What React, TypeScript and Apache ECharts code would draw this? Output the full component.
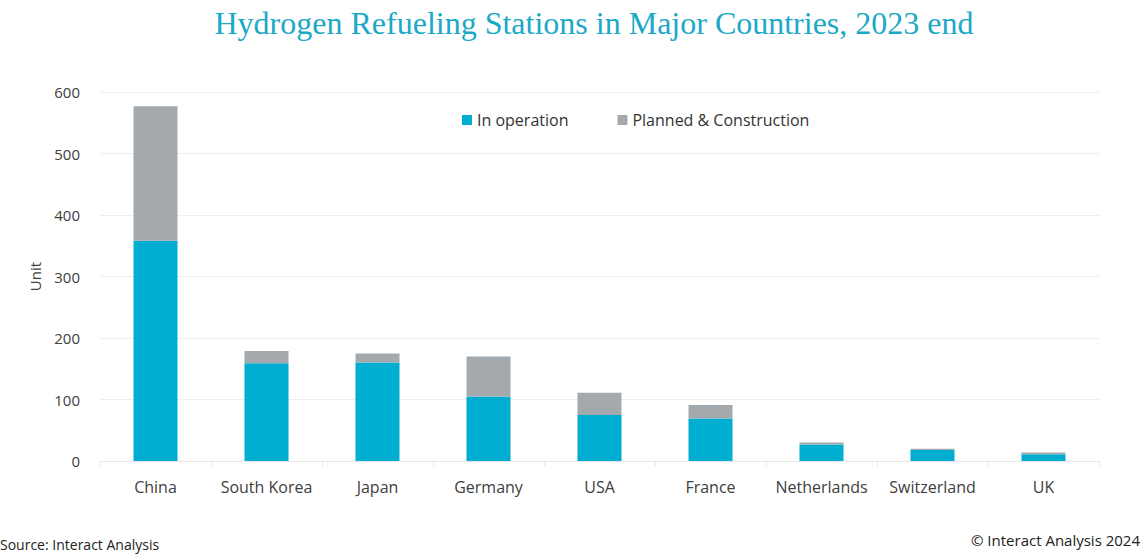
import React, { useEffect, useRef } from "react";
import * as echarts from "echarts";

const categories = ["China", "South Korea", "Japan", "Germany", "USA", "France", "Netherlands", "Switzerland", "UK"];
const inOperation = [358, 159, 160, 105, 75, 69, 27, 18, 11];
const planned = [219, 20, 15, 65, 36, 22, 3, 2, 3];
const yTicks = { min: 0, max: 600, interval: 100 };

const TEAL = "#00aed1";
const GREY = "#a4a9ae";
const SANS = "'Open Sans', 'Noto Sans', sans-serif";

export default function App() {
  const ref = useRef<HTMLDivElement>(null);
  useEffect(() => {
    if (!ref.current) return;
    const chart = echarts.init(ref.current, undefined, { renderer: "svg" });
    chart.setOption({
      animation: false,
      backgroundColor: "#ffffff",
      title: {
        text: "Hydrogen Refueling Stations in Major Countries, 2023 end",
        left: 589,
        textAlign: "center",
        top: 2,
        textStyle: {
          fontFamily: "'Liberation Serif', 'DejaVu Serif', serif",
          fontWeight: "normal",
          fontSize: 32,
          color: "#1aa9c7",
        },
      },
      legend: {
        left: 457,
        top: 107,
        itemWidth: 10,
        itemHeight: 10,
        itemGap: 49,
        icon: "rect",
        textStyle: { fontFamily: SANS, fontSize: 16, color: "#333" },
        data: ["In operation", "Planned & Construction"],
      },
      grid: { left: 100, right: 45, top: 92, bottom: 96, containLabel: false },
      xAxis: {
        type: "category",
        data: categories,
        axisLine: { show: true, lineStyle: { color: "#e6e6e6" } },
        axisTick: { show: true, length: 5, lineStyle: { color: "#e6e6e6" } },
        axisLabel: { fontFamily: SANS, fontSize: 16, color: "#404040", margin: 18, interval: 0 },
      },
      yAxis: {
        type: "value",
        min: yTicks.min,
        max: yTicks.max,
        interval: yTicks.interval,
        name: "Unit",
        nameLocation: "middle",
        nameGap: 58,
        nameTextStyle: { fontFamily: SANS, fontSize: 15, color: "#404040" },
        axisLine: { show: false },
        axisTick: { show: false },
        axisLabel: { fontFamily: SANS, fontSize: 15, color: "#404040", margin: 20 },
        splitLine: { lineStyle: { color: "#eeeeee" } },
      },
      series: [
        {
          name: "In operation",
          type: "bar",
          stack: "total",
          data: inOperation,
          barWidth: 44,
          itemStyle: { color: TEAL },
        },
        {
          name: "Planned & Construction",
          type: "bar",
          stack: "total",
          data: planned,
          barWidth: 44,
          itemStyle: { color: GREY },
        },
      ],
      graphic: [
        {
          type: "text",
          left: 0,
          top: 537,
          style: { text: "Source: Interact Analysis", font: `14px ${SANS}`, fill: "#222" },
        },
        {
          type: "text",
          right: 4,
          top: 532,
          style: { text: "© Interact Analysis 2024", font: `15px ${SANS}`, fill: "#222" },
        },
      ],
    });
    return () => chart.dispose();
  }, []);
  return <div ref={ref} style={{ position: "fixed", left: 0, top: 0, width: 1144, height: 557 }} />;
}
